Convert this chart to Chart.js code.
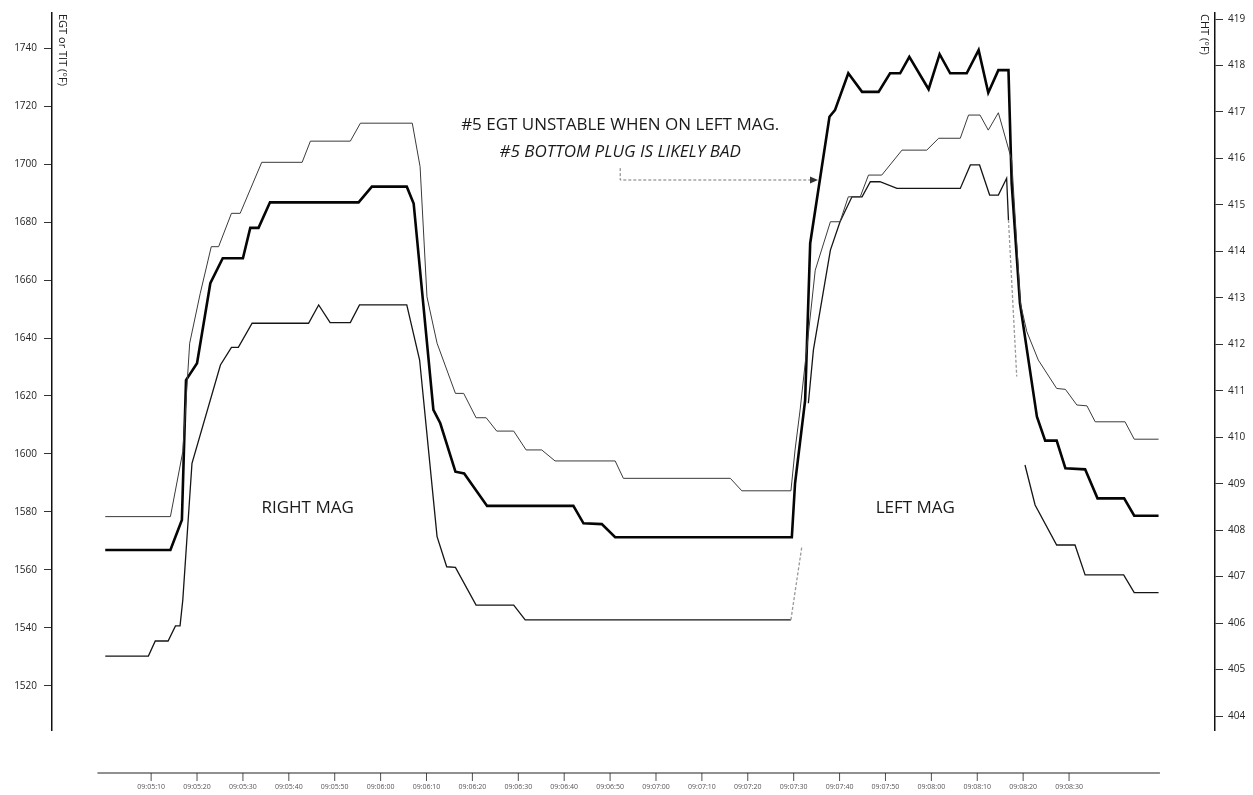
<!DOCTYPE html>
<html>
<head>
<meta charset="utf-8">
<title>EGT - right mag / left mag check</title>
<script src="https://cdn.jsdelivr.net/npm/chart.js@4.4.0/dist/chart.umd.min.js"></script>
<style>
  html, body { margin: 0; padding: 0; background: #fff; }
  #wrap { width: 1253px; height: 795px; }
</style>
</head>
<body>
<div id="wrap"><canvas id="egtChart"></canvas></div>
<script>
// time is in seconds after 09:05:00
const xTickValues = [10, 20, 30, 40, 50, 60, 70, 80, 90, 100, 110, 120, 130, 140, 150, 160, 170, 180, 190, 200, 210];
const xTickLabels = ["09:05:10", "09:05:20", "09:05:30", "09:05:40", "09:05:50", "09:06:00", "09:06:10",
  "09:06:20", "09:06:30", "09:06:40", "09:06:50", "09:07:00", "09:07:10", "09:07:20", "09:07:30",
  "09:07:40", "09:07:50", "09:08:00", "09:08:10", "09:08:20", "09:08:30"];
const egtTicks = [1520, 1540, 1560, 1580, 1600, 1620, 1640, 1660, 1680, 1700, 1720, 1740];
const chtTicks = [404, 405, 406, 407, 408, 409, 410, 411, 412, 413, 414, 415, 416, 417, 418, 419];

// thin upper trace
const upperTimes = [0, 14.2, 16.9, 18.4, 20.7, 23.1, 24.7, 27.5, 29.4, 34.1, 42.9, 44.7, 53.4, 55.6, 66.9, 68.6,
  70.1, 72.3, 76.3, 78.1, 80.8, 83.0, 85.3, 89.0, 91.7, 95.1, 98.0, 111.1, 112.9, 136.2, 138.7, 149.4,
  150.3, 151.4, 152.7, 154.7, 158.0, 160.1, 161.9, 164.5, 166.3, 169.2, 173.6, 179.0, 181.6, 186.3,
  188.1, 190.6, 192.4, 194.6, 197.5, 199.4, 200.8, 203.3, 207.3, 209.2, 211.7, 213.9, 215.7, 222.2, 224.2, 229.5];
const upperValues = [1578.4, 1578.4, 1600.8, 1638.2, 1655.4, 1671.5, 1671.5, 1683.0, 1683.0, 1700.6, 1700.6, 1707.9, 1707.9, 1714.1, 1714.1, 1699.1,
  1654.2, 1638.2, 1620.9, 1620.9, 1612.5, 1612.5, 1607.9, 1607.9, 1601.4, 1601.4, 1597.6, 1597.6, 1591.6, 1591.6, 1587.3, 1587.3,
  1601.4, 1615.2, 1634.1, 1663.4, 1680.1, 1680.1, 1688.7, 1688.7, 1696.2, 1696.2, 1704.8, 1704.8, 1708.9, 1708.9,
  1716.9, 1716.9, 1711.7, 1717.7, 1701.4, 1652.0, 1642.2, 1632.4, 1622.6, 1622.3, 1616.9, 1616.6, 1611.1, 1611.1, 1605.1, 1605.1];

// heavy trace (#5)
const heavyTimes = [0, 14.2, 16.7, 17.6, 20.0, 22.9, 25.6, 30.0, 31.6, 33.4, 35.9, 55.2, 58.1, 65.7, 67.2, 71.5,
  73.0, 76.3, 78.2, 83.2, 102.0, 104.2, 108.2, 111.1, 149.6, 150.3, 152.5, 153.6, 157.8, 159.0, 161.9,
  164.9, 168.5, 171.0, 173.2, 175.2, 179.4, 181.8, 184.1, 187.7, 190.3, 192.4, 194.6, 196.8, 197.5,
  199.3, 203.0, 204.8, 207.3, 209.2, 213.5, 216.2, 222.0, 224.2, 229.5];
const heavyValues = [1566.9, 1566.9, 1577.2, 1625.5, 1631.3, 1658.9, 1667.5, 1667.5, 1678.0, 1678.0, 1686.8, 1686.8, 1692.2, 1692.2, 1686.4, 1615.2,
  1610.6, 1593.9, 1593.3, 1582.1, 1582.1, 1576.1, 1575.8, 1571.3, 1571.3, 1589.9, 1618.6, 1672.7, 1716.3, 1718.6, 1731.3,
  1724.9, 1724.9, 1731.3, 1731.3, 1737.0, 1725.8, 1737.9, 1731.3, 1731.3, 1739.3, 1724.6, 1732.4, 1732.4, 1693.3,
  1652.0, 1612.9, 1604.6, 1604.6, 1595.1, 1594.7, 1584.7, 1584.7, 1578.7, 1578.7];

// lower trace, with two dropouts
const lowerTimes = [0, 9.4, 10.9, 13.7, 15.3, 16.3, 16.9, 18.9, 25.1, 27.5, 29.0, 32.0, 44.3, 46.5, 49.0, 53.4,
  55.4, 65.7, 68.5, 72.3, 74.4, 76.3, 80.8, 89.0, 91.5, 149.4, 151.8, 152.5, 153.2, 154.3, 158.0, 160.1,
  162.7, 164.9, 166.7, 168.8, 172.5, 186.3, 188.5, 190.5, 192.7, 194.6, 196.4, 196.8, 198.6, 199.5,
  200.4, 202.6, 207.3, 211.3, 213.5, 221.9, 224.2, 229.5];
const lowerValues = [1530.3, 1530.3, 1535.5, 1535.5, 1540.7, 1540.7, 1549.7, 1596.8, 1630.7, 1636.8, 1636.8, 1645.1, 1645.1, 1651.4, 1645.3, 1645.3,
  1651.4, 1651.4, 1632.4, 1571.5, 1561.1, 1560.9, 1547.9, 1547.9, 1542.8, 1542.8, 1568.3, null, 1617.5, 1635.9, 1670.3, 1680.1,
  1688.7, 1688.7, 1693.9, 1693.9, 1691.6, 1691.6, 1699.7, 1699.7, 1689.3, 1689.3, 1695.1, 1680.7, 1626.7, null,
  1596.2, 1582.4, 1568.6, 1568.6, 1558.3, 1558.3, 1552.2, 1552.2];

const FONT = '"Open Sans", "DejaVu Sans", sans-serif';

const toPoints = (times, values) => times.map((t, i) => ({ x: t, y: values[i] }));

// the sensor signal fades just before a dropout
const beforeDropout = (values) => (c) => values[c.p1DataIndex + 1] === null;

// axis titles, notes, arrow and the detached time axis line
const overlay = {
  id: "overlay",
  afterDraw(chart) {
    const { ctx, chartArea } = chart;
    const xs = chart.scales.x;
    const ys = chart.scales.egt;
    ctx.save();

    // time axis sits below the plot, not touching the y axes
    const axisY = chartArea.bottom + 43;
    ctx.strokeStyle = "#222";
    ctx.lineWidth = 1.2;
    ctx.beginPath();
    ctx.moveTo(xs.getPixelForValue(-1.7), axisY);
    ctx.lineTo(xs.getPixelForValue(229.8), axisY);
    ctx.stroke();
    ctx.lineWidth = 0.8;
    xTickValues.forEach((v) => {
      const px = xs.getPixelForValue(v);
      ctx.beginPath();
      ctx.moveTo(px, axisY);
      ctx.lineTo(px, axisY + 8);
      ctx.stroke();
    });

    // vertical axis titles
    ctx.fillStyle = "#222";
    ctx.font = "11px " + FONT;
    ctx.textAlign = "left";
    ctx.textBaseline = "middle";
    ctx.save();
    ctx.translate(chartArea.left + 10, chartArea.top + 1);
    ctx.rotate(Math.PI / 2);
    ctx.fillText("EGT or TIT (°F)", 0, 0);
    ctx.restore();
    ctx.save();
    ctx.translate(chartArea.right - 11, chartArea.top + 1);
    ctx.rotate(Math.PI / 2);
    ctx.fillText("CHT (°F)", 0, 0);
    ctx.restore();

    // mag labels
    ctx.fillStyle = "#1a1a1a";
    ctx.font = "17px " + FONT;
    ctx.textAlign = "center";
    ctx.fillText("RIGHT MAG", xs.getPixelForValue(44.1), ys.getPixelForValue(1581.2));
    ctx.fillText("LEFT MAG", xs.getPixelForValue(176.5), ys.getPixelForValue(1581.2));

    // note
    ctx.fillText("#5 EGT UNSTABLE WHEN ON LEFT MAG.", xs.getPixelForValue(112.2), ys.getPixelForValue(1713.5));
    ctx.font = "italic 17px " + FONT;
    ctx.fillText("#5 BOTTOM PLUG IS LIKELY BAD", xs.getPixelForValue(112.2), ys.getPixelForValue(1704.1));

    // arrow to the heavy trace
    const ax = xs.getPixelForValue(112.2);
    const ay0 = ys.getPixelForValue(1698.6);
    const ay1 = ys.getPixelForValue(1694.5);
    const bx = xs.getPixelForValue(155.3);
    ctx.strokeStyle = "#777";
    ctx.lineWidth = 1;
    ctx.setLineDash([3, 2]);
    ctx.beginPath();
    ctx.moveTo(ax, ay0);
    ctx.lineTo(ax, ay1);
    ctx.lineTo(bx - 6, ay1);
    ctx.stroke();
    ctx.setLineDash([]);
    ctx.fillStyle = "#333";
    ctx.beginPath();
    ctx.moveTo(bx, ay1);
    ctx.lineTo(bx - 8, ay1 - 3.5);
    ctx.lineTo(bx - 8, ay1 + 3.5);
    ctx.closePath();
    ctx.fill();

    ctx.restore();
  }
};

const tickFont = { family: FONT, size: 10 };
const fadesLower = beforeDropout(lowerValues);

new Chart(document.getElementById("egtChart"), {
  type: "line",
  data: {
    datasets: [
      { label: "upper", data: toPoints(upperTimes, upperValues), borderColor: "#3a3a3a", borderWidth: 1, yAxisID: "egt" },
      { label: "#5", data: toPoints(heavyTimes, heavyValues), borderColor: "#050505", borderWidth: 2.6, yAxisID: "egt" },
      {
        label: "lower",
        data: toPoints(lowerTimes, lowerValues),
        borderColor: "#151515",
        borderWidth: 1.3,
        yAxisID: "egt",
        segment: {
          borderColor: (c) => (fadesLower(c) ? "#999" : undefined),
          borderDash: (c) => (fadesLower(c) ? [3, 2] : undefined)
        }
      }
    ]
  },
  options: {
    responsive: true,
    maintainAspectRatio: false,
    animation: false,
    spanGaps: false,
    layout: { padding: { top: 13, left: 0, right: 0, bottom: 0 } },
    elements: { point: { radius: 0 }, line: { tension: 0 } },
    plugins: { legend: { display: false }, tooltip: { enabled: false } },
    scales: {
      x: {
        type: "linear",
        min: -11.6,
        max: 241.8,
        afterFit: (s) => { s.height = 65; },
        afterBuildTicks: (s) => { s.ticks = xTickValues.map((v) => ({ value: v })); },
        grid: { display: false, drawTicks: false },
        border: { display: false },
        ticks: {
          padding: 53,
          maxRotation: 0,
          autoSkip: false,
          color: "#555",
          font: { family: FONT, size: 7 },
          callback: (v, i) => xTickLabels[i]
        }
      },
      egt: {
        position: "left",
        min: 1504.8,
        max: 1752.1,
        afterFit: (s) => { s.width = 52; },
        afterBuildTicks: (s) => { s.ticks = egtTicks.map((v) => ({ value: v })); },
        grid: { drawOnChartArea: false, tickLength: 8, color: "#333" },
        border: { color: "#111", width: 1.5 },
        ticks: { padding: 7, color: "#222", font: tickFont, callback: (v) => String(v) }
      },
      cht: {
        position: "right",
        min: 403.7,
        max: 419.13,
        afterFit: (s) => { s.width = 38; },
        afterBuildTicks: (s) => { s.ticks = chtTicks.map((v) => ({ value: v })); },
        grid: { drawOnChartArea: false, tickLength: 8, color: "#333" },
        border: { color: "#111", width: 1.5 },
        ticks: { padding: 5, color: "#222", font: tickFont, callback: (v) => String(v) }
      }
    }
  },
  plugins: [overlay]
});
</script>
</body>
</html>
